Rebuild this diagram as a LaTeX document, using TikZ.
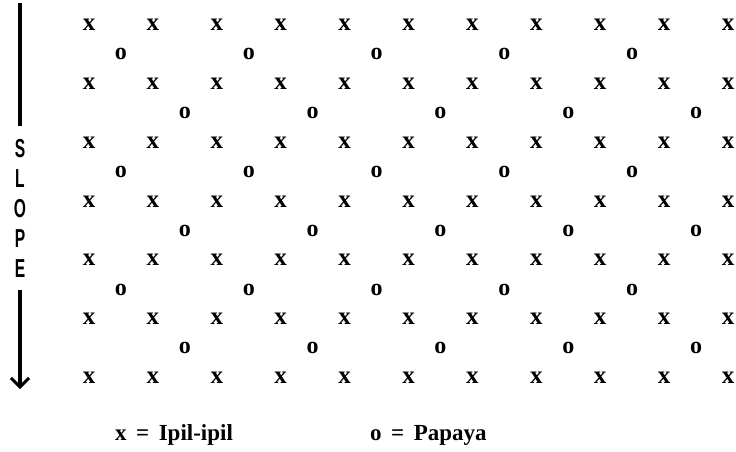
\documentclass[tikz,border=0pt]{standalone}
\usepackage{fontspec}
\setmainfont{Liberation Serif}
\newfontfamily\slopefont{Liberation Sans}
\usepackage{graphicx}
\usetikzlibrary{arrows.meta, positioning}

\begin{document}
\begin{tikzpicture}[
  x=1pt, y=-1pt,
  every node/.style = {inner sep=0pt, outer sep=0pt},
  ipil/.style   = {font=\fontsize{25}{25}\selectfont\bfseries},
  papaya/.style = {font=\fontsize{24}{24}\selectfont\bfseries},
  legend/.style = {font=\fontsize{23}{23}\selectfont\bfseries, anchor=west},
  slope/.style  = {font=\fontsize{26}{30}\selectfont\slopefont\bfseries,
                   align=center, inner ysep=13pt},
  flow/.style   = {line width=3.4pt, black},
]
\useasboundingbox (0,0) rectangle (736,451);

% Grid spacing
\def\xO{89}    % first column
\def\dx{63.9}  % column step
\def\yO{25}    % first row
\def\dy{58.8}  % row step

% ── IPIL-IPIL (x) ───────────────────────────────────────────────────────────
\foreach \i in {0,...,10}
  \foreach \j in {0,...,6}
    \node[ipil] (x-\i-\j) at ({\xO+\dx*\i}, {\yO+\dy*\j}) {x};

% ── PAPAYA (o), shifted by one column every other row ──────────────────────
\foreach \j in {0,...,5}
  \foreach \k in {0,...,4} {
    \pgfmathsetmacro\sh{mod(\j,2)}
    \node[papaya] (o-\k-\j) at ({\xO+\dx*(2*\k+0.5+\sh)}, {\yO+\dy*(\j+0.5)}) {o};
  }

% ── SLOPE ARROW ─────────────────────────────────────────────────────────────
\node[slope] (slope) at (20, 208)
  {\scalebox{0.6}[1]{S}\\\scalebox{0.6}[1]{L}\\\scalebox{0.6}[1]{O}\\
   \scalebox{0.6}[1]{P}\\\scalebox{0.6}[1]{E}};
\coordinate (top) at (20, 3);
\coordinate (bot) at (20, 389);

\draw[flow] (top) -- (slope.north);
\draw[flow, -{Straight Barb[length=9pt, width=18pt, line width=3pt]}]
  (slope.south) -- (bot);

% ── KEY ─────────────────────────────────────────────────────────────────────
\node[legend] (key-x) at (115, 435) {x \,=\, Ipil-ipil};
\node[legend] (key-o) at (370, 435) {o \,=\, Papaya};

\end{tikzpicture}
\end{document}
